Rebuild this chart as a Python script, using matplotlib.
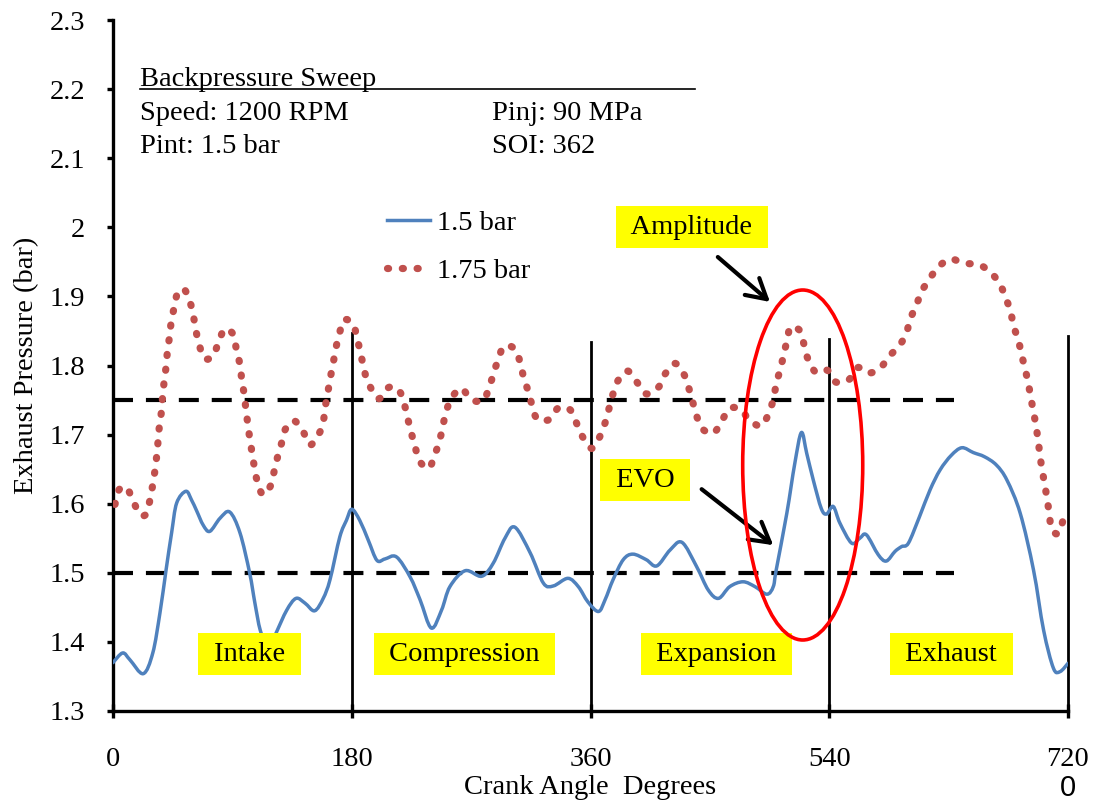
import matplotlib
matplotlib.use("Agg")
import matplotlib.pyplot as plt
from matplotlib.patches import Ellipse, PathPatch
from matplotlib.path import Path

plt.rcParams['font.family'] = ['Liberation Serif', 'DejaVu Serif']
plt.rcParams['font.size'] = 20.5

# ---------------- data ----------------
crank_15 = [0, 7.3, 12.8, 22.8, 30, 35.4, 40, 44.2, 48, 55, 59.3, 63, 68, 73, 80.7, 88, 95.7, 103, 107, 111,
            116, 120, 123, 131, 138, 144.8, 152, 158.5, 163.6, 171, 176, 180, 186, 192.5, 199, 205, 213.7, 224,
            231.5, 240, 247.7, 254, 265.5, 278, 286.7, 295.5, 303, 314.5, 324.5, 332, 343, 350.8, 358, 366,
            371, 377, 384.7, 392, 402, 410, 420, 429, 440, 448.8, 456.5, 465, 475, 484, 493, 497.8, 500, 508,
            514, 519, 523, 528, 534, 538, 543, 548, 556.8, 563, 568, 577, 583, 589.6, 594.6, 599.7, 608, 616,
            623.6, 632, 640, 648.6, 657, 666, 674, 684, 694, 701.6, 709, 714, 720]
press_15 = [1.370, 1.384, 1.374, 1.354, 1.384, 1.442, 1.504, 1.558, 1.601, 1.618, 1.605, 1.590, 1.569, 1.560,
            1.579, 1.588, 1.558, 1.500, 1.456, 1.417, 1.395, 1.400, 1.413, 1.446, 1.463, 1.456, 1.445, 1.463,
            1.490, 1.552, 1.576, 1.592, 1.576, 1.547, 1.518, 1.520, 1.523, 1.494, 1.461, 1.420, 1.446, 1.480,
            1.503, 1.495, 1.514, 1.550, 1.566, 1.529, 1.485, 1.481, 1.492, 1.480, 1.458, 1.444, 1.461, 1.490,
            1.519, 1.527, 1.519, 1.510, 1.533, 1.544, 1.509, 1.475, 1.463, 1.480, 1.487, 1.480, 1.469, 1.480,
            1.504, 1.586, 1.658, 1.703, 1.673, 1.634, 1.593, 1.585, 1.596, 1.572, 1.543, 1.550, 1.555, 1.526,
            1.517, 1.531, 1.538, 1.543, 1.581, 1.620, 1.649, 1.670, 1.681, 1.674, 1.668, 1.656, 1.634, 1.586,
            1.504, 1.417, 1.362, 1.357, 1.369]

crank_175 = [1.5, 4.5, 10, 15, 20, 25, 28, 30, 31.7, 33, 34, 35, 36.6, 37.4, 38.6, 40, 41, 42.5, 43.8, 46, 48.4,
             53.4, 58, 60.6, 62.6, 65, 69, 75.6, 79.4, 84.4, 91, 93, 95.7, 97, 98.8, 100, 101.5, 103, 104.8,
             106.5, 108.7, 113, 118.8, 121.4, 124, 127, 130, 136.5, 143.4, 148.5, 155, 158.5, 160, 162, 163.6,
             166, 168, 170.6, 174, 181, 184, 186.7, 189, 192, 200, 207.6, 215, 219.5, 222, 224.7, 227.7, 231,
             238, 242.4, 246, 248.6, 251, 255, 262.4, 270, 279, 283.5, 287, 290.5, 294.8, 303, 307, 309.6, 313,
             316, 320, 329, 336, 344.6, 349.6, 354, 361, 367, 371, 374, 377, 381, 388, 395, 402, 411, 416,
             423.5, 430, 434, 437, 440, 444.6, 452.6, 459, 465, 473.6, 480, 489, 494.6, 498, 500, 503, 505.5,
             508, 511, 518, 521, 524, 530, 538.6, 545, 554.5, 561.5, 569.6, 578.3, 585, 592.6, 598, 601, 605.6,
             609.6, 615.5, 622, 631, 641.6, 652.6, 661.6, 668.6, 673, 676.7, 679, 682.5, 685, 687.6, 690, 692,
             694, 696, 697.6, 699, 700.6, 702.6, 704.4, 706, 707.6, 713, 716.6]
press_175 = [1.599, 1.620, 1.624, 1.605, 1.585, 1.585, 1.607, 1.628, 1.649, 1.670, 1.691, 1.713, 1.734, 1.756,
             1.777, 1.798, 1.820, 1.840, 1.862, 1.883, 1.903, 1.911, 1.892, 1.872, 1.850, 1.830, 1.810, 1.814,
             1.833, 1.853, 1.844, 1.823, 1.802, 1.780, 1.760, 1.740, 1.717, 1.696, 1.674, 1.654, 1.633, 1.613,
             1.626, 1.646, 1.667, 1.687, 1.708, 1.720, 1.704, 1.685, 1.700, 1.719, 1.740, 1.761, 1.780, 1.803,
             1.825, 1.845, 1.866, 1.860, 1.839, 1.818, 1.797, 1.777, 1.752, 1.768, 1.766, 1.745, 1.725, 1.704,
             1.683, 1.662, 1.651, 1.670, 1.690, 1.711, 1.732, 1.752, 1.767, 1.751, 1.749, 1.768, 1.789, 1.809,
             1.828, 1.824, 1.804, 1.783, 1.763, 1.742, 1.722, 1.722, 1.739, 1.736, 1.716, 1.697, 1.680, 1.697,
             1.717, 1.738, 1.759, 1.779, 1.792, 1.776, 1.759, 1.768, 1.787, 1.803, 1.789, 1.768, 1.748, 1.727,
             1.708, 1.702, 1.720, 1.738, 1.736, 1.720, 1.713, 1.732, 1.752, 1.773, 1.794, 1.814, 1.835, 1.856,
             1.850, 1.830, 1.809, 1.790, 1.793, 1.776, 1.779, 1.797, 1.789, 1.796, 1.813, 1.828, 1.846, 1.867,
             1.887, 1.907, 1.925, 1.942, 1.954, 1.948, 1.946, 1.935, 1.918, 1.898, 1.878, 1.857, 1.837, 1.816,
             1.795, 1.775, 1.753, 1.733, 1.711, 1.690, 1.668, 1.648, 1.626, 1.605, 1.584, 1.563, 1.557, 1.579]

series_labels = ["1.5 bar", "1.75 bar"]
ref_levels = [1.5, 1.75]
ref_end = 634
stroke_bounds = [180, 360, 540, 720]
stroke_tops = [1.847, 1.834, 1.838, 1.843]
phase_names = ["Intake", "Compression", "Expansion", "Exhaust"]
phase_x = [103, 265, 455, 632]
phase_y = 1.382
x_ticks = [0, 180, 360, 540, 720]
y_ticks = [1.3, 1.4, 1.5, 1.6, 1.7, 1.8, 1.9, 2.0, 2.1, 2.2, 2.3]
y_ticklabels = ["1.3", "1.4", "1.5", "1.6", "1.7", "1.8", "1.9", "2", "2.1", "2.2", "2.3"]

BLUE = "#4F81BD"
RED = "#C0504D"


def smoothed_path(xs, ys):
    """Excel-style smoothed line: cubic Bezier segments passing through every data point."""
    pts = list(zip(xs, ys))
    n = len(pts)
    verts = [pts[0]]
    codes = [Path.MOVETO]
    for i in range(n - 1):
        p0 = pts[i - 1] if i > 0 else pts[i]
        p1 = pts[i]
        p2 = pts[i + 1]
        p3 = pts[i + 2] if i + 2 < n else pts[i + 1]
        c1 = (p1[0] + (p2[0] - p0[0]) / 6.0, p1[1] + (p2[1] - p0[1]) / 6.0)
        c2 = (p2[0] - (p3[0] - p1[0]) / 6.0, p2[1] - (p3[1] - p1[1]) / 6.0)
        verts += [c1, c2, p2]
        codes += [Path.CURVE4] * 3
    return Path(verts, codes)


fig = plt.figure(figsize=(10.96, 8.10), dpi=100)
ax = fig.add_axes([113 / 1096, 1 - 711 / 810, 955 / 1096, 691 / 810])

# reference dashed lines
for lvl in ref_levels:
    ax.plot([0, ref_end], [lvl, lvl], color="black", lw=3.0, linestyle=(0, (4.8, 3.1)), zorder=2)

# stroke boundaries
for xb, yt in zip(stroke_bounds, stroke_tops):
    ax.plot([xb, xb], [1.3, yt], color="black", lw=2.0, zorder=2, clip_on=False)

RED_LW = 5.2
RED_DASH = (0, (0.15, 1.9))
ax.add_patch(PathPatch(smoothed_path(crank_15, press_15), fill=False, edgecolor=BLUE, lw=2.5,
                       zorder=3, capstyle="round", joinstyle="round"))
ax.add_patch(PathPatch(smoothed_path(crank_175, press_175), fill=False, edgecolor=RED, lw=RED_LW,
                       linestyle=RED_DASH, capstyle="round", zorder=3))
# legend entries
ax.plot([], [], color=BLUE, lw=2.5, label=series_labels[0])
ax.plot([], [], color=RED, lw=RED_LW, linestyle=RED_DASH, dash_capstyle="round", label=series_labels[1])

ax.set_xlim(0, 720)
ax.set_ylim(1.3, 2.3)
ax.set_xticks(x_ticks)
ax.set_yticks(y_ticks)
ax.set_yticklabels(y_ticklabels)

for s in ["top", "right"]:
    ax.spines[s].set_visible(False)
for s in ["left", "bottom"]:
    ax.spines[s].set_linewidth(2.4)

ax.tick_params(axis="y", direction="out", length=4.5, width=2.4, pad=15.5, labelsize=20.5)
ax.tick_params(axis="x", direction="inout", length=9.5, width=2.4, pad=21, labelsize=20.5)

ax.set_xlabel("Crank Angle  Degrees", fontsize=20.5)
ax.xaxis.set_label_coords(0.5, -0.093)
ax.set_ylabel("Exhaust Pressure (bar)", fontsize=20.5)
ax.yaxis.set_label_coords((27 - 113) / 955, 0.5)
ax.yaxis.label.set_va("center")

leg = ax.legend(loc="upper left", bbox_to_anchor=(0.287, 0.725), frameon=False, borderpad=0,
                borderaxespad=0, handlelength=1.5, handletextpad=0.25, labelspacing=0.78, fontsize=20.5)

# info block
ax.text(20.4, 2.2045, "Backpressure Sweep", ha="left", va="baseline", fontsize=20.5)
ax.plot([20.4, 439], [2.2, 2.2], color="black", lw=1.2)
ax.text(20.4, 2.155, "Speed: 1200 RPM", ha="left", va="baseline", fontsize=20.5)
ax.text(20.4, 2.1075, "Pint: 1.5 bar", ha="left", va="baseline", fontsize=20.5)
ax.text(285.7, 2.155, "Pinj: 90 MPa", ha="left", va="baseline", fontsize=20.5)
ax.text(285.7, 2.1075, "SOI: 362", ha="left", va="baseline", fontsize=20.5)

box = dict(boxstyle="square,pad=0.3", facecolor="#FFFF00", edgecolor="none")
for name, xp in zip(phase_names, phase_x):
    ax.text(xp, phase_y, " " + name + " ", ha="center", va="center", fontsize=20.5, bbox=box, zorder=5)

ax.text(436.5, 2.0, " Amplitude ", ha="center", va="center", fontsize=20.5, bbox=box, zorder=5)
ax.text(401, 1.634, " EVO ", ha="center", va="center", fontsize=20.5, bbox=box, zorder=5)

arrow = dict(arrowstyle="->,head_length=0.7,head_width=0.4", color="black", lw=3, shrinkA=0, shrinkB=0,
             mutation_scale=20)
ax.annotate("", xy=(495.3, 1.892), xytext=(456, 1.957), arrowprops=arrow, zorder=6)
ax.annotate("", xy=(497.8, 1.540), xytext=(443.8, 1.621), arrowprops=arrow, zorder=6)

ax.add_patch(Ellipse((520, 1.656), 90.5, 0.5065, fill=False, edgecolor="#FF0000", lw=2.6, zorder=6))

fig.text(1068 / 1096, 1 - 788 / 810, "0", ha="center", va="center", fontsize=21,
         family=["Liberation Sans", "DejaVu Sans"])

fig.savefig("out.png", dpi=100)
